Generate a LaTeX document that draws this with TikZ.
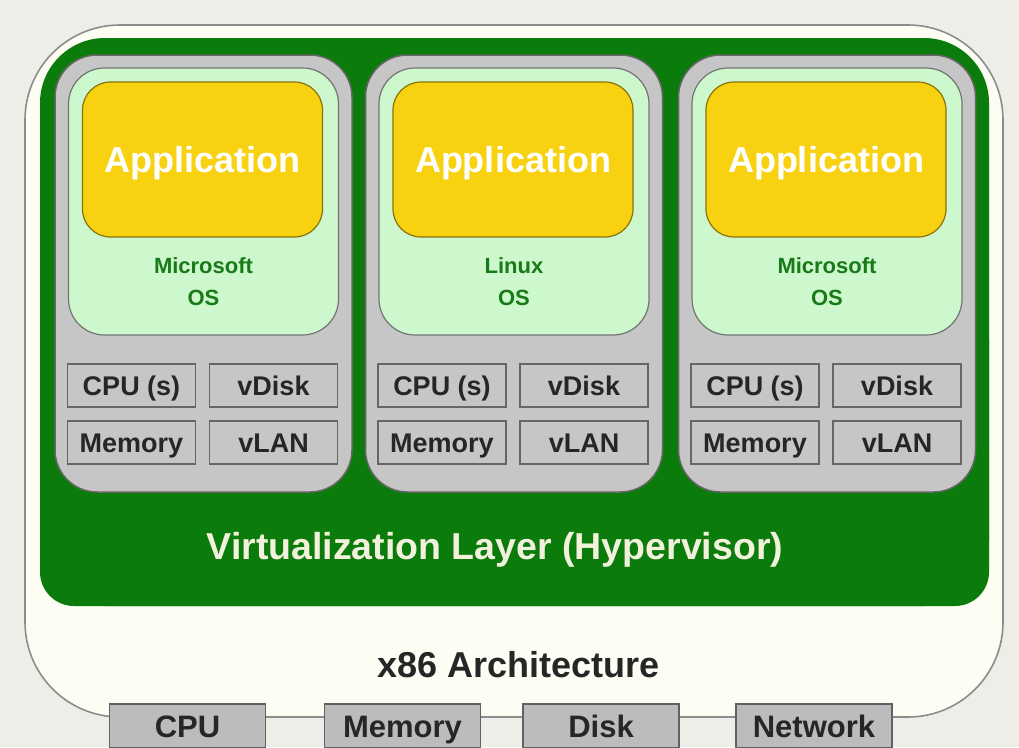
\documentclass[tikz,border=0pt]{standalone}
\usepackage{fontspec}
\setmainfont{Liberation Sans}
\definecolor{bgc}{HTML}{EEEEE9}
\definecolor{outerc}{HTML}{FDFDF4}
\definecolor{greenc}{HTML}{0B7B0B}
\definecolor{vmgray}{HTML}{C6C6C6}
\definecolor{osgreen}{HTML}{CDF8CD}
\definecolor{appyel}{HTML}{F8D210}
\definecolor{oslabel}{HTML}{187A18}
\definecolor{hvtext}{HTML}{F2F2DC}
\begin{document}
\begin{tikzpicture}[x=1pt,y=-1pt,
  vm/.style={draw=black!60, line width=1.5pt, fill=vmgray, rounded corners=42pt,
    minimum width=297pt, minimum height=437pt, inner sep=0pt},
  osbox/.style={draw=black!55, line width=1.2pt, fill=osgreen, rounded corners=36pt,
    minimum width=270pt, minimum height=267pt, inner sep=0pt},
  appbox/.style={draw=appyel!55!black, line width=1.2pt, fill=appyel, rounded corners=28pt,
    minimum width=240pt, minimum height=155pt, inner sep=0pt, text=white,
    text height=32pt, text depth=7pt,
    font=\fontsize{36}{40}\selectfont\bfseries},
  oslbl/.style={text=oslabel, align=center, font=\fontsize{22}{32}\selectfont\bfseries},
  res/.style={draw=black!60, line width=1.4pt, fill=vmgray, minimum width=128pt,
    minimum height=43pt, inner sep=0pt, text=black!85, text height=23pt, text depth=4pt,
    font=\fontsize{27}{30}\selectfont\bfseries},
  hw/.style={draw=black!62, line width=1.4pt, fill=vmgray!95!black, minimum width=156pt,
    minimum height=44pt, inner sep=0pt, text=black!85, text height=27pt, text depth=4pt,
    font=\fontsize{31}{36}\selectfont\bfseries},
  greenpart/.style={fill=greenc, inner sep=0pt}
]
\useasboundingbox (0,0) rectangle (1019,747);
\clip (0,0) rectangle (1019,747);
\fill[bgc] (0,0) rectangle (1019,747);
% outer hardware shape
\draw[fill=outerc, draw=black!45, line width=1.6pt, rounded corners=95pt]
  (25,25) rectangle (1003,717);
% green hypervisor
\node[greenpart, rounded corners=65pt, minimum width=949pt, minimum height=568pt] (green) at (514.5,322) {};
\node[greenpart, rounded corners=34pt, minimum width=949pt, minimum height=300pt] (greenlow) at (514.5,456) {};
\node[text=hvtext, font=\fontsize{37.5}{42}\selectfont\bfseries] (hv) at (495,550) {Virtualization Layer (Hypervisor)};
% VMs
\foreach \i/\cx/\osa in {1/203.5/Microsoft, 2/514/Linux, 3/827/Microsoft}{
  \node[vm] (vm\i) at (\cx,273.5) {};
  \node[osbox] (os\i) at (\cx,201.5) {};
  \node[appbox] (app\i) at (\cx-1,159.5) {Application};
  \node[oslbl] (oslbl\i) at (\cx,282) {\osa\\OS};
  \node[res] (cpu\i) at (\cx-72,385.5) {CPU (s)};
  \node[res] (disk\i) at (\cx+70,385.5) {vDisk};
  \node[res] (mem\i) at (\cx-72,442.5) {Memory};
  \node[res] (lan\i) at (\cx+70,442.5) {vLAN};
}
% hardware
\node[text=black!85, font=\fontsize{36}{40}\selectfont\bfseries] (x86) at (519,665) {x86 Architecture};
\node[hw] (hcpu) at (187.5,726) {CPU};
\node[hw] (hmem) at (402.5,726) {Memory};
\node[hw] (hdisk) at (601,726) {Disk};
\node[hw] (hnet) at (814,726) {Network};
\end{tikzpicture}
\end{document}
